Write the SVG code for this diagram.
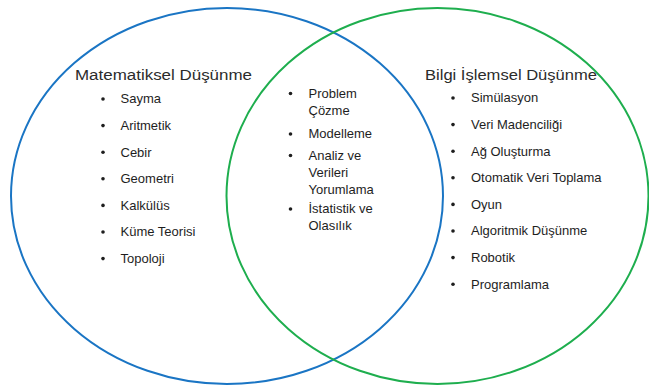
<svg xmlns="http://www.w3.org/2000/svg" width="649" height="387" viewBox="0 0 649 387">
  <style>
    .ring { fill: none; stroke-width: 2; }
    .blue { stroke: #1a75c4; }
    .green { stroke: #1eae4e; }
    .title { font-family: "Liberation Sans", Arial, sans-serif; font-size: 15.5px; fill: #2b2b2b; }
    .item { font-family: "Liberation Sans", Arial, sans-serif; font-size: 13px; fill: #1e1e1e; }
    .dot { fill: #1e1e1e; }
  </style>
  <defs>
    <circle id="bullet" r="1.8" class="dot"/>
  </defs>

  <g id="connectors"></g>

  <!-- left set: mathematical thinking -->
  <g id="math">
    <ellipse class="ring blue" cx="227" cy="196" rx="216" ry="188"/>
    <text class="title" x="75" y="79.5" textLength="177" lengthAdjust="spacingAndGlyphs">Matematiksel Düşünme</text>
    <use href="#bullet" x="103" y="99"/>
    <use href="#bullet" x="103" y="125.6"/>
    <use href="#bullet" x="103" y="152.2"/>
    <use href="#bullet" x="103" y="178.8"/>
    <use href="#bullet" x="103" y="205.4"/>
    <use href="#bullet" x="103" y="232"/>
    <use href="#bullet" x="103" y="258.6"/>
    <text class="item" x="120.5" y="103.3">Sayma</text>
    <text class="item" x="120.5" y="129.9">Aritmetik</text>
    <text class="item" x="120.5" y="156.5">Cebir</text>
    <text class="item" x="120.5" y="183.1">Geometri</text>
    <text class="item" x="120.5" y="209.7">Kalkülüs</text>
    <text class="item" x="120.5" y="236.3">Küme Teorisi</text>
    <text class="item" x="120.5" y="262.9">Topoloji</text>
  </g>

  <!-- right set: computational thinking -->
  <g id="computational">
    <ellipse class="ring green" cx="437.5" cy="196" rx="211" ry="188"/>
    <text class="title" x="425" y="79.5" textLength="172" lengthAdjust="spacingAndGlyphs">Bilgi İşlemsel Düşünme</text>
    <use href="#bullet" x="453" y="98"/>
    <use href="#bullet" x="453" y="124.6"/>
    <use href="#bullet" x="453" y="151.2"/>
    <use href="#bullet" x="453" y="177.8"/>
    <use href="#bullet" x="453" y="204.4"/>
    <use href="#bullet" x="453" y="231"/>
    <use href="#bullet" x="453" y="257.6"/>
    <use href="#bullet" x="453" y="284.2"/>
    <text class="item" x="471" y="102.3">Simülasyon</text>
    <text class="item" x="471" y="128.9">Veri Madenciliği</text>
    <text class="item" x="471" y="155.5">Ağ Oluşturma</text>
    <text class="item" x="471" y="182.1">Otomatik Veri Toplama</text>
    <text class="item" x="471" y="208.7">Oyun</text>
    <text class="item" x="471" y="235.3">Algoritmik Düşünme</text>
    <text class="item" x="471" y="261.9">Robotik</text>
    <text class="item" x="471" y="288.5">Programlama</text>
  </g>

  <!-- shared area -->
  <g id="overlap">
    <use href="#bullet" x="290.5" y="93.5"/>
    <use href="#bullet" x="290.5" y="134"/>
    <use href="#bullet" x="290.5" y="155.5"/>
    <use href="#bullet" x="290.5" y="209"/>
    <text class="item" x="308.5" y="97.5">Problem</text>
    <text class="item" x="308.5" y="115">Çözme</text>
    <text class="item" x="308.5" y="138">Modelleme</text>
    <text class="item" x="308.5" y="159.5">Analiz ve</text>
    <text class="item" x="308.5" y="176.5">Verileri</text>
    <text class="item" x="308.5" y="193.5">Yorumlama</text>
    <text class="item" x="308.5" y="213">İstatistik ve</text>
    <text class="item" x="308.5" y="230">Olasılık</text>
  </g>
</svg>
